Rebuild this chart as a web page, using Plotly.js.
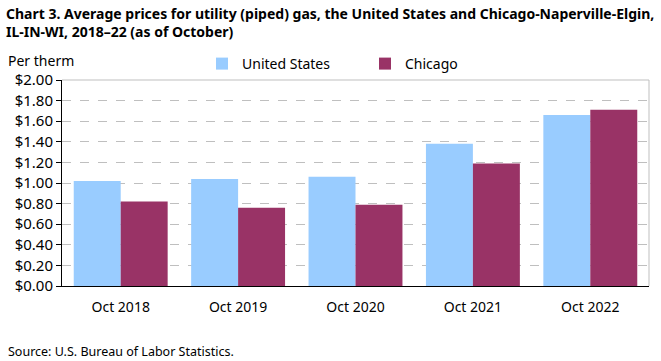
<!DOCTYPE html>
<html>
<head>
<meta charset="utf-8">
<script src="https://cdn.plot.ly/plotly-3.0.1.min.js"></script>
<style>html,body{margin:0;padding:0;background:#fff;}#chart{width:661px;height:361px;}</style>
</head>
<body>
<div id="chart"></div>
<script>
var categories = ["Oct 2018", "Oct 2019", "Oct 2020", "Oct 2021", "Oct 2022"];
var unitedStates = [1.02, 1.04, 1.06, 1.38, 1.66];
var chicago = [0.82, 0.76, 0.79, 1.19, 1.71];
var yTickValues = [0, 0.2, 0.4, 0.6, 0.8, 1.0, 1.2, 1.4, 1.6, 1.8, 2.0];
var yTickLabels = ["$0.00", "$0.20", "$0.40", "$0.60", "$0.80", "$1.00", "$1.20", "$1.40", "$1.60", "$1.80", "$2.00"];

var FONT = "Noto Sans, sans-serif";
var traces = [
  {type: "bar", name: "United States", x: categories, y: unitedStates, marker: {color: "#99ccff"}, legend: "legend"},
  {type: "bar", name: "Chicago", x: categories, y: chicago, marker: {color: "#993366"}, legend: "legend2"}
];
var PW = 587, PH = 206;
var legendCommon = {orientation: "h", yanchor: "middle", y: 1 + 16/PH, xanchor: "left", font: {family: FONT, size: 14}, itemwidth: 30, bgcolor: "rgba(0,0,0,0)"};
var layout = {
  width: 661, height: 361,
  margin: {l: 62, r: 12, t: 80, b: 75},
  paper_bgcolor: "#fff", plot_bgcolor: "#fff",
  font: {family: FONT, size: 14, color: "#000"},
  barmode: "group", bargap: 0.2, bargroupgap: 0,
  showlegend: true,
  legend: Object.assign({}, legendCommon, {x: (222 - 62 - 20) / PW}),
  legend2: Object.assign({}, legendCommon, {x: (385 - 62 - 20) / PW}),
  xaxis: {
    type: "category", showgrid: false, zeroline: false,
    showline: true, linecolor: "#000", linewidth: 1,
    ticks: "", tickfont: {family: FONT, size: 14},
    ticklabelstandoff: 8
  },
  yaxis: {
    range: [0, 2], tickvals: yTickValues, ticktext: yTickLabels,
    showgrid: true, gridcolor: "#bfbfbf", griddash: "dash", gridwidth: 1,
    zeroline: false, showline: true, linecolor: "#000", linewidth: 1,
    ticks: "outside", ticklen: 5, tickcolor: "#000",
    tickfont: {family: FONT, size: 15}
  },
  shapes: [
    {type: "line", xref: "paper", yref: "paper", x0: 0, x1: 1, y0: 1, y1: 1, line: {color: "#bfbfbf", width: 1}},
    {type: "line", xref: "paper", yref: "paper", x0: 1, x1: 1, y0: 0, y1: 1, line: {color: "#bfbfbf", width: 1}}
  ],
  annotations: [
    {xref: "paper", yref: "paper", x: -58/PW, y: 1 + 58/PH, xanchor: "left", yanchor: "middle", showarrow: false, align: "left",
     text: "<b>Chart 3. Average prices for utility (piped) gas, the United States and Chicago-Naperville-Elgin,<br>IL-IN-WI, 2018–22 (as of October)</b>",
     font: {family: FONT, size: 14}},
    {xref: "paper", yref: "paper", x: -56/PW, y: 1 + 20/PH, xanchor: "left", yanchor: "middle", showarrow: false,
     text: "Per therm", font: {family: FONT, size: 14}},
    {xref: "paper", yref: "paper", x: -56/PW, y: -65/PH, xanchor: "left", yanchor: "middle", showarrow: false,
     text: "Source: U.S. Bureau of Labor Statistics.", font: {family: FONT, size: 12.5}}
  ]
};
Plotly.newPlot("chart", traces, layout, {displayModeBar: false, staticPlot: true});
</script>
</body>
</html>
